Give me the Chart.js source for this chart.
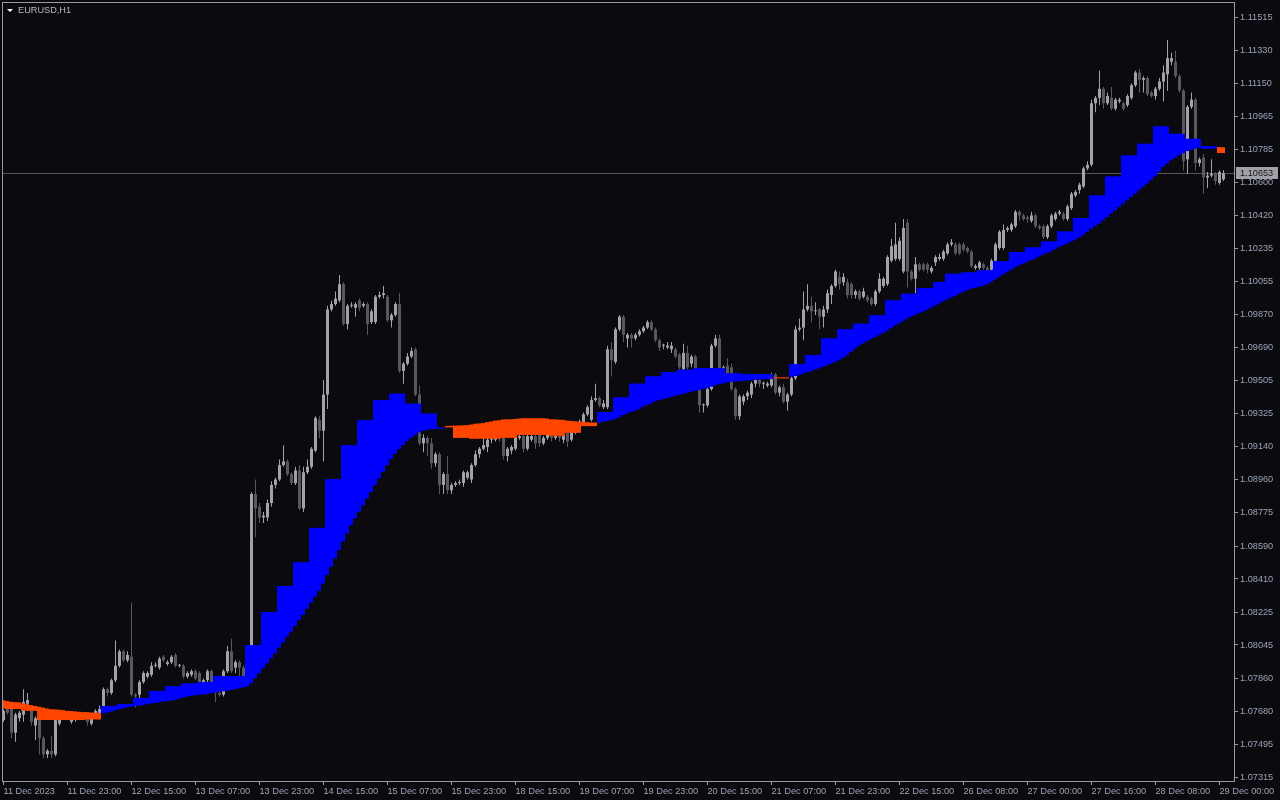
<!DOCTYPE html>
<html>
<head>
<meta charset="utf-8">
<title>EURUSD,H1</title>
<script src="https://cdn.jsdelivr.net/npm/chart.js@4.4.1/dist/chart.umd.min.js"></script>
<style>
  html, body { margin: 0; padding: 0; background: #0a0a0f; }
</style>
</head>
<body>
<canvas id="chart" width="1280" height="800"></canvas>
<script>
'use strict'

// prices are kept in pips above 1.07000 (so 65 means 1.07650)
const BASE = 1.07
const toPrice = pip => BASE + pip / 10000

// hourly candles, 11 Dec 07:00 -> 29 Dec 01:00
const open = [
  63, 69, 70, 56, 64, 66, 72, 70, 60, 63,
  53, 44, 46, 44, 61, 66, 66, 62, 63, 64,
  65, 65, 61, 66, 67, 70, 80, 78, 85, 93,
  101, 96, 98, 77, 77, 84, 87, 88, 93, 92,
  98, 94, 95, 99, 93, 93, 87, 88, 90, 89,
  84, 85, 90, 84, 78, 77, 90, 101, 92, 95,
  92, 87, 88, 188, 181, 175, 175, 183, 193, 196,
  204, 206, 199, 194, 201, 180, 200, 203, 212, 229,
  223, 243, 290, 293, 295, 304, 282, 292, 291, 295,
  292, 293, 283, 283, 297, 298, 297, 284, 287, 293,
  256, 260, 264, 268, 243, 216, 219, 216, 205, 210,
  193, 199, 190, 193, 194, 194, 197, 196, 204, 210,
  213, 214, 218, 218, 220, 219, 209, 212, 213, 219,
  220, 213, 218, 220, 221, 216, 219, 220, 219, 220,
  218, 222, 218, 222, 226, 227, 232, 229, 240, 241,
  236, 236, 268, 261, 279, 286, 274, 276, 274, 276,
  278, 280, 283, 279, 273, 270, 269, 268, 268, 265,
  257, 266, 260, 264, 246, 237, 237, 246, 270, 274,
  255, 259, 258, 246, 231, 239, 242, 243, 249, 251,
  249, 248, 248, 254, 244, 247, 239, 243, 252, 279,
  280, 290, 292, 289, 290, 286, 290, 298, 303, 308,
  305, 305, 304, 298, 300, 297, 297, 296, 293, 300,
  303, 304, 317, 318, 318, 311, 338, 311, 307, 315,
  315, 315, 311, 316, 318, 318, 321, 326, 326, 326,
  326, 324, 322, 313, 313, 315, 313, 312, 317, 324,
  324, 334, 334, 336, 344, 342, 341, 339, 342, 336,
  336, 330, 336, 340, 343, 343, 340, 346, 353, 356,
  358, 368, 370, 404, 407, 412, 404, 407, 401, 405,
  404, 403, 407, 414, 421, 417, 418, 410, 408, 412,
  416, 420, 427, 427, 419, 411, 373, 402, 406, 371,
  374, 363, 364, 365, 360, 362
]
const high = [
  69, 70, 71, 67, 68, 80, 78, 71, 65, 64,
  54, 47, 54, 64, 66, 67, 67, 65, 65, 66,
  66, 66, 65, 69, 71, 81, 81, 86, 107, 102,
  102, 101, 128, 78, 85, 90, 90, 95, 95, 98,
  99, 96, 99, 100, 94, 94, 90, 91, 91, 90,
  86, 91, 91, 85, 79, 91, 104, 108, 96, 96,
  93, 92, 189, 196, 183, 178, 185, 195, 197, 207,
  215, 207, 200, 203, 204, 203, 207, 214, 231, 231,
  251, 292, 295, 300, 309, 305, 293, 294, 294, 296,
  294, 294, 290, 298, 300, 303, 298, 288, 294, 299,
  261, 266, 269, 269, 248, 221, 220, 219, 211, 211,
  200, 209, 194, 195, 196, 201, 201, 205, 212, 214,
  220, 219, 220, 221, 221, 220, 214, 215, 220, 222,
  221, 221, 223, 222, 222, 220, 222, 221, 221, 221,
  221, 223, 225, 227, 229, 233, 237, 242, 249, 242,
  240, 270, 272, 280, 287, 287, 277, 277, 277, 279,
  281, 284, 284, 280, 274, 271, 272, 272, 269, 266,
  271, 270, 265, 265, 247, 238, 247, 271, 276, 276,
  259, 263, 260, 247, 243, 243, 245, 250, 252, 252,
  250, 250, 255, 255, 248, 249, 244, 253, 281, 285,
  300, 304, 297, 294, 291, 292, 301, 304, 312, 311,
  310, 307, 305, 301, 301, 302, 298, 297, 301, 310,
  308, 320, 329, 338, 330, 340, 340, 312, 319, 316,
  316, 316, 314, 320, 321, 323, 327, 329, 327, 327,
  327, 325, 323, 315, 317, 316, 314, 318, 327, 334,
  337, 336, 338, 345, 345, 343, 342, 344, 343, 337,
  337, 337, 343, 344, 345, 344, 348, 355, 356, 360,
  369, 372, 406, 408, 422, 413, 410, 413, 407, 407,
  405, 409, 415, 422, 423, 419, 419, 411, 413, 418,
  425, 439, 432, 433, 420, 412, 403, 410, 407, 374,
  376, 366, 373, 366, 367, 367
]
const low = [
  62, 66, 53, 51, 62, 62, 70, 60, 52, 44,
  42, 42, 42, 43, 60, 63, 63, 61, 62, 63,
  64, 60, 60, 65, 66, 69, 76, 77, 84, 92,
  95, 95, 76, 70, 71, 83, 86, 87, 92, 91,
  95, 93, 94, 92, 92, 86, 86, 87, 85, 83,
  83, 84, 83, 73, 76, 76, 89, 89, 89, 87,
  86, 85, 86, 164, 172, 172, 173, 181, 191, 195,
  203, 198, 193, 193, 179, 178, 199, 202, 211, 219,
  206, 235, 289, 292, 294, 281, 279, 291, 286, 289,
  291, 276, 282, 282, 296, 296, 283, 280, 286, 255,
  249, 259, 263, 242, 215, 211, 209, 202, 203, 188,
  188, 188, 188, 192, 193, 192, 196, 194, 203, 208,
  212, 211, 216, 217, 217, 207, 206, 210, 212, 218,
  211, 212, 217, 213, 214, 215, 218, 217, 218, 217,
  216, 214, 217, 221, 225, 226, 231, 228, 239, 236,
  235, 235, 253, 260, 278, 272, 269, 269, 273, 275,
  277, 279, 278, 272, 267, 268, 268, 266, 263, 257,
  255, 256, 258, 245, 233, 233, 236, 245, 269, 254,
  253, 250, 245, 229, 229, 237, 240, 241, 247, 247,
  246, 247, 247, 243, 242, 238, 234, 242, 251, 278,
  273, 289, 283, 287, 279, 280, 288, 293, 302, 301,
  303, 296, 296, 296, 295, 296, 294, 292, 292, 299,
  302, 303, 316, 317, 317, 310, 302, 306, 299, 311,
  311, 310, 310, 314, 317, 317, 320, 325, 320, 320,
  322, 321, 313, 312, 312, 312, 310, 311, 316, 323,
  323, 333, 333, 335, 339, 339, 338, 338, 335, 334,
  329, 329, 335, 339, 342, 339, 339, 345, 352, 354,
  357, 367, 369, 399, 403, 401, 403, 400, 400, 404,
  400, 402, 406, 413, 410, 410, 408, 407, 406, 411,
  405, 411, 425, 418, 410, 367, 365, 401, 367, 369,
  354, 357, 363, 359, 359, 361
]
const close = [
  68, 67, 56, 66, 67, 73, 74, 62, 64, 53,
  44, 46, 44, 63, 65, 64, 65, 64, 64, 65,
  65, 62, 64, 68, 69, 80, 78, 85, 93, 101,
  96, 99, 77, 76, 84, 89, 89, 93, 93, 97,
  96, 95, 98, 93, 93, 87, 89, 90, 86, 84,
  85, 90, 84, 78, 77, 90, 101, 90, 95, 92,
  87, 90, 188, 180, 175, 176, 183, 193, 196, 204,
  206, 199, 194, 201, 180, 200, 203, 213, 230, 223,
  243, 290, 293, 296, 304, 282, 292, 292, 293, 291,
  293, 282, 289, 297, 298, 299, 284, 287, 293, 256,
  260, 264, 267, 243, 216, 219, 216, 205, 210, 193,
  199, 190, 193, 194, 194, 200, 200, 204, 210, 213,
  215, 218, 218, 220, 219, 209, 213, 214, 219, 220,
  213, 220, 220, 216, 216, 219, 221, 219, 220, 219,
  220, 217, 224, 226, 228, 232, 236, 240, 241, 237,
  238, 268, 262, 279, 286, 276, 276, 274, 276, 278,
  280, 283, 279, 273, 269, 270, 270, 270, 264, 258,
  266, 258, 264, 246, 237, 237, 246, 270, 274, 255,
  258, 251, 246, 231, 242, 242, 244, 249, 251, 249,
  249, 249, 254, 244, 247, 239, 243, 252, 279, 280,
  290, 292, 289, 289, 286, 290, 299, 303, 311, 304,
  308, 298, 298, 300, 296, 300, 295, 293, 300, 307,
  307, 319, 325, 326, 328, 335, 311, 307, 315, 312,
  312, 312, 313, 319, 319, 322, 326, 327, 321, 321,
  323, 322, 314, 314, 316, 313, 312, 317, 326, 333,
  334, 335, 337, 344, 342, 340, 340, 342, 336, 335,
  330, 336, 342, 343, 344, 340, 347, 354, 355, 359,
  368, 370, 404, 407, 412, 404, 408, 401, 406, 406,
  401, 408, 414, 421, 417, 418, 409, 408, 412, 416,
  421, 429, 429, 419, 411, 372, 402, 406, 371, 373,
  363, 364, 365, 361, 366, 365.3
]

// indicator: slow line held per H4 bar, and its count of H1 bars
const stepValues = [
  69.4,
  69.1, 68.1, 63.0, 63.0, 63.0, 63.3,
  70.8, 71.9, 75.2, 79.1, 81.8, 83.3, 84.0, 87.3, 87.3,
  104.5, 122.7, 137.1, 150.3, 169.3, 196.2, 215.0, 228.8, 239.9, 243.5, 238.0, 232.5,
  224.8, 219.0, 218.5, 218.5, 219.0, 220.6, 220.6, 220.1, 221.8, 225.5,
  233.3, 241.5, 249.1, 253.1, 255.4, 256.8, 257.6, 257.6, 254.8, 254.3, 254.3, 251.9,
  259.8, 264.8, 274.1, 279.1, 282.2, 286.8, 295.1, 298.8, 301.9,
  305.2,
  309.8, 310.6, 311.7, 316.7, 321.8, 324.4, 327.7, 333.2, 340.6, 353.1,
  363.6, 375.2, 381.7, 391.3, 387.2, 384.4, 380.3,
  376.5
]
const stepBars = [1, ...Array(58).fill(4), 3, ...Array(17).fill(4), 2]

// indicator: fast line, one value per H1 bar
const fastLine = [
  74.0, 73.5, 73.1, 72.9, 72.8, 72.2, 71.8, 71.3, 70.8, 70.4,
  69.9, 69.4, 69.0, 68.9, 68.7, 68.5, 68.1, 68.0, 67.8, 67.6,
  67.4, 67.4, 67.2, 67.0, 67.0, 66.7, 67.2, 67.6, 68.3, 68.9,
  69.5, 70.0, 70.4, 70.8, 71.0, 71.3, 71.8, 72.2, 72.5, 72.8,
  73.2, 73.5, 73.8, 74.1, 74.8, 75.4, 75.9, 76.3, 76.7, 77.0,
  77.2, 77.4, 77.8, 78.1, 78.5, 78.9, 79.2, 79.6, 80.0, 80.5,
  81.0, 81.5, 83.3, 86.1, 88.8, 91.6, 94.3, 97.1, 99.9, 103.0,
  105.8, 109.1, 111.8, 115.0, 118.3, 121.1, 124.6, 128.0, 131.2, 134.5,
  138.5, 143.2, 147.8, 152.4, 157.0, 161.6, 166.2, 170.8, 174.5, 178.2,
  181.8, 185.5, 189.2, 192.9, 196.6, 200.3, 203.9, 207.3, 210.4, 212.8,
  215.0, 217.2, 219.0, 220.5, 222.0, 222.9, 223.5, 223.8, 223.9, 224.0,
  224.1, 225.6, 225.7, 225.8, 225.9, 226.0, 226.1, 226.4, 226.8, 227.0,
  227.2, 227.7, 228.1, 228.6, 228.8, 229.2, 229.3, 229.3, 229.5, 229.7,
  229.9, 229.9, 229.9, 229.9, 229.9, 229.9, 229.7, 229.3, 229.3, 229.1,
  229.0, 228.6, 228.4, 228.2, 228.0, 228.0, 227.7, 227.5, 227.5, 227.4,
  227.9, 228.3, 228.8, 229.4, 230.3, 231.6, 232.5, 233.4, 234.0, 234.9,
  236.2, 237.1, 238.0, 239.2, 239.9, 240.4, 241.0, 241.5, 242.3, 242.8,
  243.4, 243.9, 244.5, 244.9, 245.4, 246.0, 246.5, 247.3, 248.0, 248.7,
  249.1, 249.6, 250.0, 250.2, 250.4, 250.4, 250.8, 250.9, 251.1, 251.3,
  251.3, 251.5, 251.5, 252.4, 252.5, 252.5, 252.5, 252.8, 253.2, 253.7,
  254.6, 255.2, 255.9, 256.8, 257.4, 258.3, 259.2, 260.1, 261.0, 262.0,
  263.3, 264.6, 266.5, 268.3, 270.0, 271.2, 272.5, 273.6, 274.7, 275.8,
  277.0, 278.2, 279.6, 281.0, 282.3, 283.6, 284.9, 286.0, 287.0, 288.0,
  288.8, 289.8, 290.9, 292.1, 293.3, 294.4, 295.5, 296.5, 297.5, 298.6,
  299.7, 300.6, 301.5, 302.0, 302.5, 303.2, 303.9, 305.2, 306.5, 307.9,
  309.3, 310.6, 312.0, 313.2, 314.4, 315.3, 316.3, 317.2, 318.1, 319.2,
  320.3, 321.2, 322.2, 323.4, 324.6, 325.5, 326.4, 327.5, 328.6, 329.8,
  331.0, 332.8, 334.7, 336.1, 337.5, 339.3, 341.1, 343.0, 344.8, 346.6,
  348.5, 350.3, 352.2, 354.0, 355.9, 357.7, 359.6, 361.6, 363.6, 366.2,
  368.8, 370.6, 372.5, 373.8, 375.2, 376.4, 377.6, 378.2, 378.9, 379.5,
  378.8, 378.9, 379.0, 379.0, 379.8, 379.7
]

// bottom axis: bar index of each label and its text
const timeTickBars = [0, 16, 32, 48, 64, 80, 96, 112, 128, 144, 160, 176, 192, 208, 224, 240, 256, 272, 288, 304]
const timeTickLabels = [
  '11 Dec 2023', '11 Dec 23:00', '12 Dec 15:00', '13 Dec 07:00', '13 Dec 23:00',
  '14 Dec 15:00', '15 Dec 07:00', '15 Dec 23:00', '18 Dec 15:00', '19 Dec 07:00',
  '19 Dec 23:00', '20 Dec 15:00', '21 Dec 07:00', '21 Dec 23:00', '22 Dec 15:00',
  '26 Dec 08:00', '27 Dec 00:00', '27 Dec 16:00', '28 Dec 08:00', '29 Dec 00:00'
]

// right axis labels
const priceTicks = [
  1.11515, 1.11330, 1.11150, 1.10965, 1.10785, 1.10600, 1.10420, 1.10235,
  1.10055, 1.09870, 1.09690, 1.09505, 1.09325, 1.09140, 1.08960, 1.08775,
  1.08590, 1.08410, 1.08225, 1.08045, 1.07860, 1.07680, 1.07495, 1.07315
]

const SYMBOL = 'EURUSD,H1'
const BG = '#0a0a0f'
const TEXT = '#9aa4b6'
const AXIS = '#9a9aa2'
const BULL = '#a2a2ac'
const BEAR = '#58585f'
const UP = '#0000ff'
const DOWN = '#ff4500'

// expand the H4 steps to one value per H1 bar
const stepLine = []
stepValues.forEach((v, k) => {
  for (let j = 0; j < stepBars[k]; j++) stepLine.push(v)
})

const lastPrice = toPrice(close[close.length - 1])
const candleColor = close.map((c, i) => (c >= open[i] ? BULL : BEAR))

const bodyData = close.map((c, i) => ({ x: i, y: [toPrice(open[i]), toPrice(c)] }))
const wickData = close.map((c, i) => ({ x: i, y: [toPrice(low[i]), toPrice(high[i])] }))
const bandData = fastLine.map((f, i) => ({ x: i, y: [toPrice(f), toPrice(stepLine[i])] }))
const bandColor = fastLine.map((f, i) => (stepLine[i] >= f ? UP : DOWN))

const frame = {
  id: 'frame',
  beforeDraw (chart) {
    const { ctx, width, height } = chart
    ctx.save()
    ctx.fillStyle = BG
    ctx.fillRect(0, 0, width, height)
    ctx.restore()
  },
  beforeDatasetsDraw (chart) {
    // current price line sits under the bars
    const { ctx, chartArea: a } = chart
    const y = Math.round(chart.scales.y.getPixelForValue(lastPrice)) + 0.5
    ctx.save()
    ctx.strokeStyle = '#55555e'
    ctx.lineWidth = 1
    ctx.beginPath()
    ctx.moveTo(a.left, y)
    ctx.lineTo(a.right, y)
    ctx.stroke()
    ctx.restore()
  },
  afterDraw (chart) {
    const { ctx, chartArea: a } = chart
    ctx.save()
    ctx.strokeStyle = AXIS
    ctx.lineWidth = 1
    ctx.strokeRect(a.left + 0.5, a.top + 0.5, a.right - a.left, a.bottom - a.top)

    // symbol caption
    ctx.fillStyle = '#ffffff'
    ctx.beginPath()
    ctx.moveTo(a.left + 5, a.top + 7)
    ctx.lineTo(a.left + 11, a.top + 7)
    ctx.lineTo(a.left + 8, a.top + 10)
    ctx.closePath()
    ctx.fill()
    ctx.font = "9.2px 'Liberation Sans', Arial, sans-serif"
    ctx.fillStyle = '#b4bcc8'
    ctx.textBaseline = 'middle'
    ctx.textAlign = 'left'
    ctx.fillText(SYMBOL, a.left + 16, a.top + 8.5)

    // last price tag on the axis
    const y = Math.round(chart.scales.y.getPixelForValue(lastPrice))
    ctx.fillStyle = '#a0a0a6'
    ctx.fillRect(a.right + 2, y - 6, 42, 12)
    ctx.fillStyle = '#14141c'
    ctx.fillText(lastPrice.toFixed(5), a.right + 6, y + 0.5)
    ctx.restore()
  }
}

Chart.defaults.font.family = "'Liberation Sans', Arial, sans-serif"
Chart.defaults.font.size = 9.2
Chart.defaults.color = TEXT

const ctx = document.getElementById('chart')

const eurusdChart = new Chart(ctx, {
  type: 'bar',
  data: {
    datasets: [
      {
        label: 'trend band',
        data: bandData,
        xAxisID: 'xBand',
        backgroundColor: bandColor,
        barThickness: 4,
        order: 0
      },
      {
        label: 'wicks',
        data: wickData,
        backgroundColor: candleColor,
        barThickness: 1,
        order: 2
      },
      {
        label: 'bodies',
        data: bodyData,
        backgroundColor: candleColor,
        barThickness: 3,
        minBarLength: 1,
        order: 1
      }
    ]
  },
  plugins: [frame],
  options: {
    responsive: false,
    animation: false,
    layout: { padding: { left: 2, top: 2, right: 0, bottom: 0 } },
    datasets: {
      bar: { grouped: false, borderWidth: 0, inflateAmount: 0 }
    },
    plugins: {
      legend: { display: false },
      tooltip: { enabled: false },
      title: { display: false }
    },
    scales: {
      x: {
        type: 'linear',
        min: -0.375,
        max: 307.625,
        offset: false,
        afterBuildTicks: s => { s.ticks = timeTickBars.map(v => ({ value: v })) },
        afterFit: s => { s.height = 19; s.paddingLeft = 0; s.paddingRight = 0 },
        grid: { drawOnChartArea: false, tickLength: 4, color: AXIS, offset: false },
        border: { display: false },
        ticks: {
          autoSkip: false,
          maxRotation: 0,
          minRotation: 0,
          align: 'start',
          padding: 1,
          callback: (v, idx) => timeTickLabels[idx]
        }
      },
      xBand: {
        // the histogram columns sit half a pixel left of the candle centres
        type: 'linear',
        min: -0.25,
        max: 307.75,
        offset: false,
        display: false
      },
      y: {
        position: 'right',
        min: 1.07293,
        max: 1.11600,
        afterBuildTicks: s => { s.ticks = priceTicks.map(v => ({ value: v })) },
        afterFit: s => { s.width = 46; s.paddingTop = 0; s.paddingBottom = 0 },
        grid: { drawOnChartArea: false, tickLength: 4, color: AXIS },
        border: { display: false },
        ticks: {
          autoSkip: false,
          padding: 2,
          callback: v => v.toFixed(5)
        }
      }
    }
  }
})
</script>
</body>
</html>
